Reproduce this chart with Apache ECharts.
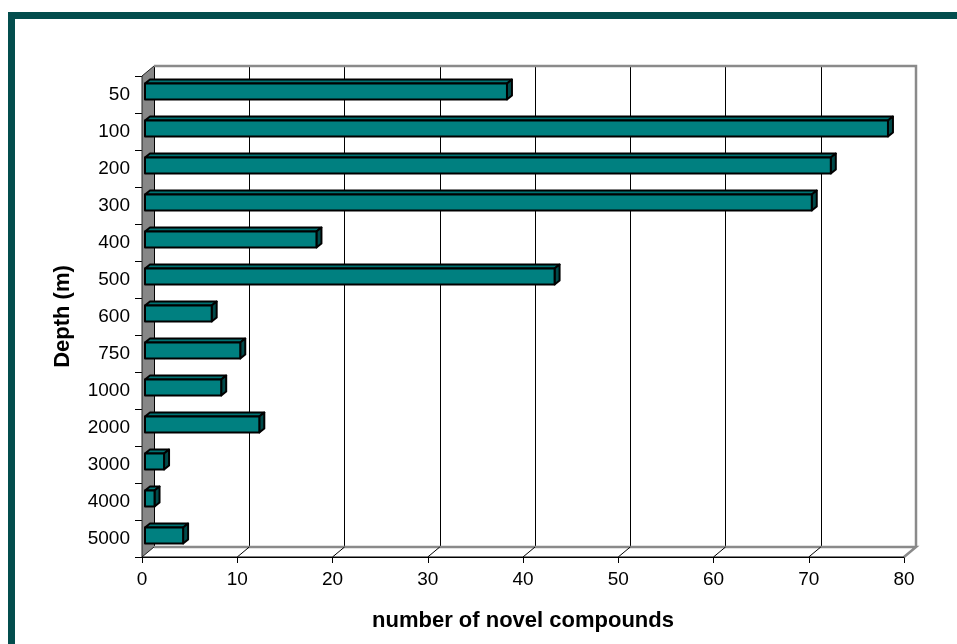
<!DOCTYPE html>
<html>
<head>
<meta charset="utf-8">
<script src="https://cdn.jsdelivr.net/npm/echarts@6/dist/echarts.min.js"></script>
<style>
html,body{margin:0;padding:0;background:#fff;}
#chart{width:957px;height:644px;}
</style>
</head>
<body>
<div id="chart"></div>
<script>
// ---- data ----
const depths = ['50','100','200','300','400','500','600','750','1000','2000','3000','4000','5000'];
const compounds = [38, 78, 72, 70, 18, 43, 7, 10, 8, 12, 2, 1, 4];
const xTicks = [0, 10, 20, 30, 40, 50, 60, 70, 80];
const xTitle = 'number of novel compounds';
const yTitle = 'Depth (m)';

// ---- 3D look ----
const DX = 12, DY = -10;      // depth of the plot box
const BX = 3, BY = -2;        // bar position inside depth
const BDX = 5, BDY = -4;      // bar depth
const FONT = 'Liberation Sans, Arial, sans-serif';

const chart = echarts.init(document.getElementById('chart'));

function wallsRender(params, api) {
  const bandH = api.size([0, 1])[1];
  const top = api.coord([0, 0])[1] - bandH / 2;
  const bottom = api.coord([0, depths.length - 1])[1] + bandH / 2;
  const xl = api.coord([xTicks[0], 0])[0];
  const xr = api.coord([xTicks[xTicks.length - 1], 0])[0];
  const ch = [];
  ch.push({type: 'polygon', shape: {points: [[xl, top], [xl + DX, top + DY], [xl + DX, bottom + DY], [xl, bottom]]},
    style: {fill: '#878787', stroke: null}});
  ch.push({type: 'polyline', shape: {points: [[xl + DX, top + DY], [xr + DX, top + DY], [xr + DX, bottom + DY]]},
    style: {fill: null, stroke: '#8a8a8a', lineWidth: 2.5}});
  ch.push({type: 'polyline', shape: {points: [[xl + DX, bottom + DY], [xr + DX, bottom + DY], [xr, bottom]]},
    style: {fill: null, stroke: '#8a8a8a', lineWidth: 2.5}});
  for (let i = 1; i < xTicks.length - 1; i++) {
    const x = api.coord([xTicks[i], 0])[0];
    ch.push({type: 'line', shape: {x1: x, y1: bottom, x2: x + DX, y2: bottom + DY},
      style: {stroke: '#000', lineWidth: 1}});
  }
  ch.push({type: 'polyline', shape: {points: [[xl + DX, top + DY], [xl, top], [xl, bottom], [xl + DX, bottom + DY]]},
    style: {fill: null, stroke: '#222', lineWidth: 1}});
  ch.push({type: 'line', shape: {x1: xl, y1: bottom, x2: xr, y2: bottom}, style: {stroke: '#000', lineWidth: 1}});
  return {type: 'group', children: ch};
}

function barRender(params, api) {
  const idx = api.value(1);
  const v = api.value(0);
  const p0 = api.coord([0, idx]);
  const p1 = api.coord([v, idx]);
  const cy = p0[1];
  const x0 = p0[0] + BX, x1 = p1[0] + BX;
  const yt = cy - 9 + BY, yb = cy + 7 + BY;
  const stroke = {stroke: '#000', lineWidth: 2, lineJoin: 'round'};
  return {type: 'group', children: [
    {type: 'polygon', shape: {points: [[x0, yt], [x0 + BDX, yt + BDY], [x1 + BDX, yt + BDY], [x1, yt]]},
      style: Object.assign({fill: '#007373'}, stroke)},
    {type: 'polygon', shape: {points: [[x1, yt], [x1 + BDX, yt + BDY], [x1 + BDX, yb + BDY], [x1, yb]]},
      style: Object.assign({fill: '#004a4a'}, stroke)},
    {type: 'rect', shape: {x: x0, y: yt, width: x1 - x0, height: yb - yt},
      style: Object.assign({fill: '#008080'}, stroke)}
  ]};
}

chart.setOption({
  animation: false,
  backgroundColor: '#fff',
  graphic: [{
    type: 'rect', z: 100,
    shape: {x: 11.5, y: 15.5, width: 1000, height: 700},
    style: {fill: null, stroke: '#034d4d', lineWidth: 7}
  }],
  grid: [
    {left: 142 + DX, top: 76 + DY, width: 762, height: 481},
    {left: 142, top: 76, width: 762, height: 481}
  ],
  xAxis: [
    {gridIndex: 0, type: 'value', min: 0, max: 80, interval: 10,
      axisLine: {show: false}, axisTick: {show: false}, axisLabel: {show: false},
      splitLine: {show: true, lineStyle: {color: '#000', width: 1}}},
    {gridIndex: 1, type: 'value', min: 0, max: 80, interval: 10,
      axisLine: {show: true, lineStyle: {color: '#000', width: 1}},
      axisTick: {show: true, length: 6, lineStyle: {color: '#000'}},
      axisLabel: {fontSize: 19, color: '#000', margin: 13, fontFamily: FONT},
      splitLine: {show: false},
      name: xTitle, nameLocation: 'middle', nameGap: 53,
      nameTextStyle: {fontSize: 22, fontWeight: 'bold', color: '#000', fontFamily: FONT}}
  ],
  yAxis: [
    {gridIndex: 0, type: 'category', data: depths, inverse: true, show: false},
    {gridIndex: 1, type: 'category', data: depths, inverse: true,
      axisLine: {show: true, lineStyle: {color: '#000', width: 1}},
      axisTick: {show: true, length: 7, lineStyle: {color: '#000'}},
      axisLabel: {fontSize: 19, color: '#000', margin: 12, fontFamily: FONT},
      name: yTitle, nameLocation: 'middle', nameGap: 68, nameRotate: 90,
      nameTextStyle: {fontSize: 22, fontWeight: 'bold', color: '#000', fontFamily: FONT}}
  ],
  series: [
    {type: 'custom', xAxisIndex: 1, yAxisIndex: 1, z: 2, silent: true,
      renderItem: wallsRender, data: [[0, 0]]},
    {type: 'custom', xAxisIndex: 1, yAxisIndex: 1, z: 3,
      renderItem: barRender,
      encode: {x: 0, y: 1},
      data: compounds.map((v, i) => [v, i])}
  ]
});
</script>
</body>
</html>
